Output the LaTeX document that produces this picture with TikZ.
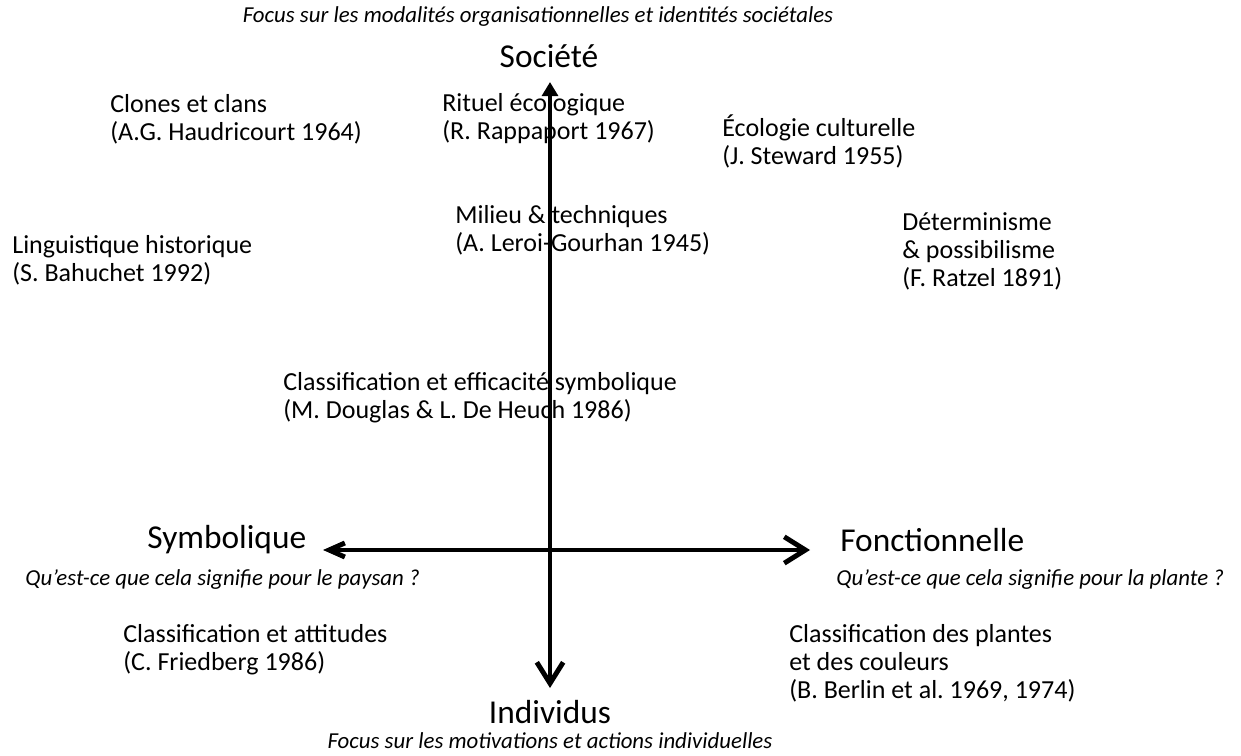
\documentclass[tikz,border=0pt]{standalone}
\usepackage{fontspec}
\setmainfont{Carlito}
\usetikzlibrary{arrows.meta}
\frenchspacing
\tikzset{
  txt/.style={anchor=west,inner sep=0pt,align=left,font=\fontsize{14.8}{15.9}\selectfont},
  pole/.style={inner sep=0pt,font=\fontsize{19}{22}\selectfont},
  note/.style={inner sep=0pt,font=\fontsize{13}{15}\itshape\selectfont},
  axe/.style={line width=2.8pt},
  barbe/.tip={Straight Barb[length=12pt,width=15pt]}
}

\begin{document}
\begin{tikzpicture}[x=0.02cm,y=-0.02cm]
  \useasboundingbox (0,0) rectangle (1241,756);
  %AXES
  \coordinate (haut) at (550,82);
  \coordinate (bas) at (550,688);
  \coordinate (gauche) at (323,550);
  \coordinate (droite) at (810,550);
  \draw[axe,barbe-{Triangle[length=8pt,width=9pt]}] (bas) -- (haut);
  \draw[axe,{Straight Barb[length=9pt,width=8pt]}-barbe] (gauche) -- (droite);
  %POLES
  \node[note] (focush) at (538,17) {Focus sur les modalités organisationnelles et identités sociétales};
  \node[pole] (societe) at (549,56) {Société};
  \node[pole,anchor=west] (symb) at (147,540) {Symbolique};
  \node[pole,anchor=west] (fonc) at (840,540) {Fonctionnelle};
  \node[note,anchor=west] (qpaysan) at (25,580) {Qu’est-ce que cela signifie pour le paysan ?};
  \node[note,anchor=west] (qplante) at (836,580) {Qu’est-ce que cela signifie pour la plante ?};
  \node[pole] (indiv) at (550,712) {Individus};
  \node[note] (focusb) at (550,741) {Focus sur les motivations et actions individuelles};
  %AUTEURS
  \node[txt] (clones) at (110,119) {Clones et clans\\(A.G. Haudricourt 1964)};
  \node[txt] (rituel) at (442,119) {Rituel écologique\\(R. Rappaport 1967)};
  \node[txt] (ecologie) at (722,141) {Écologie culturelle\\(J. Steward 1955)};
  \node[txt] (milieu) at (455,230) {Milieu \& techniques\\(A. Leroi-Gourhan 1945)};
  \node[txt] (linguist) at (12,260) {Linguistique historique\\(S. Bahuchet 1992)};
  \node[txt] (determ) at (902,251) {Déterminisme\\\& possibilisme\\(F. Ratzel 1891)};
  \node[txt] (efficac) at (283,398) {Classification et efficacité symbolique\\(M. Douglas \& L. De Heuch 1986)};
  \node[txt] (attitudes) at (123,650) {Classification et attitudes\\(C. Friedberg 1986)};
  \node[txt] (couleurs) at (789,663) {Classification des plantes\\et des couleurs\\(B. Berlin et al. 1969, 1974)};
\end{tikzpicture}
\end{document}
